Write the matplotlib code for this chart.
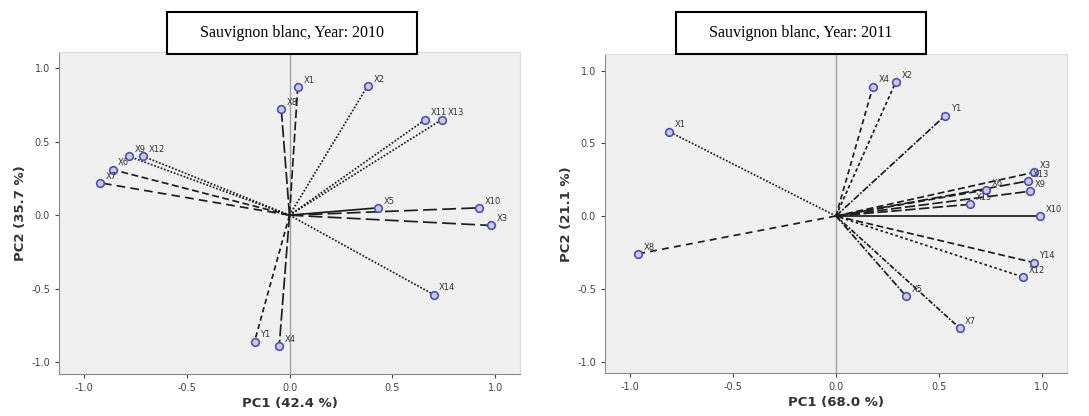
import matplotlib.pyplot as plt
from matplotlib.patches import Rectangle

plt.rcParams['axes.unicode_minus'] = False

# loadings, 2010
labels_2010 = ['X1', 'X8', 'X2', 'X11', 'X13', 'X12', 'X9', 'X6', 'X7',
               'X5', 'X10', 'X3', 'X14', 'Y1', 'X4']
pc1_2010 = [0.04, -0.04, 0.38, 0.66, 0.74, -0.71, -0.78, -0.86, -0.92,
            0.43, 0.92, 0.98, 0.70, -0.17, -0.05]
pc2_2010 = [0.87, 0.72, 0.88, 0.65, 0.65, 0.40, 0.40, 0.31, 0.22,
            0.05, 0.05, -0.07, -0.54, -0.86, -0.89]

# loadings, 2011
labels_2011 = ['X4', 'X2', 'Y1', 'X1', 'X8', 'X3', 'X13', 'X9', 'X6',
               'X15', 'X10', 'Y14', 'X12', 'X5', 'X7']
pc1_2011 = [0.18, 0.29, 0.53, -0.81, -0.96, 0.96, 0.93, 0.94, 0.73,
            0.65, 0.99, 0.96, 0.91, 0.34, 0.60]
pc2_2011 = [0.89, 0.92, 0.69, 0.58, -0.26, 0.30, 0.24, 0.17, 0.18,
            0.08, 0.0, -0.32, -0.42, -0.55, -0.77]

styles_2010 = [(0, (5, 2)), (0, (7, 2)), (0, (1, 1)), (0, (1, 1)), (0, (1, 1)),
               (0, (1, 1)), (0, (1, 1)), (0, (4, 2)), (0, (5, 3)),
               '-', (0, (8, 3)), (0, (8, 3)), (0, (1, 1)), (0, (3, 2)), (0, (7, 2))]
styles_2011 = [(0, (3, 2)), (0, (2, 1.5)), (0, (4, 1, 1, 1)), (0, (1, 1)), (0, (4, 3)),
               (0, (4, 2)), (0, (6, 2)), (0, (6, 2)), (0, (4, 2)),
               (0, (6, 2)), '-', (0, (4, 2)), (0, (1.5, 1.5)), (0, (4, 1, 1, 1)), (0, (3, 1, 1, 1))]

fig = plt.figure(figsize=(10.89, 4.16), dpi=100)


def biplot(ax, xs, ys, labs, styles, xlabel, ylabel):
    ax.set_facecolor('#f0f0f0')
    ax.axvline(0, color='#a0a0a0', lw=1.0, zorder=1)
    for x, y, lab, ls in zip(xs, ys, labs, styles):
        ax.plot([0, x], [0, y], color='#1e1e1e', lw=1.25, ls=ls, zorder=2)
        ax.plot(x, y, 'o', ms=5.5, mfc='#c9c9e6', mec='#5050a8', mew=1.2, zorder=3)
        ax.annotate(lab, (x, y), xytext=(4, 3), textcoords='offset points',
                    fontsize=6, color='#333333', zorder=4)
    ax.set_xlim(-1.12, 1.12)
    ax.set_ylim(-1.08, 1.11)
    ax.set_xticks([-1.0, -0.5, 0.0, 0.5, 1.0])
    ax.set_yticks([-1.0, -0.5, 0.0, 0.5, 1.0])
    ax.tick_params(labelsize=7, colors='#444444', length=3, width=0.8)
    ax.set_xlabel(xlabel, fontsize=9.5, fontweight='bold', color='#333333', labelpad=3)
    ax.set_ylabel(ylabel, fontsize=9.5, fontweight='bold', color='#333333', labelpad=3)
    for side in ['left', 'bottom']:
        ax.spines[side].set_color('#8a8a8a')
    for side in ['top', 'right']:
        ax.spines[side].set_color('#dcdcdc')


ax1 = fig.add_axes([0.0542, 0.101, 0.4233, 0.774])
biplot(ax1, pc1_2010, pc2_2010, labels_2010, styles_2010, 'PC1 (42.4 %)', 'PC2 (35.7 %)')

ax2 = fig.add_axes([0.5556, 0.103, 0.424, 0.766])
biplot(ax2, pc1_2011, pc2_2011, labels_2011, styles_2011, 'PC1 (68.0 %)', 'PC2 (21.1 %)')

# title boxes
for x0, title in [(167, 'Sauvignon blanc, Year: 2010'), (676, 'Sauvignon blanc, Year: 2011')]:
    fig.patches.append(Rectangle((x0 / 1089, 1 - 54 / 416), 250 / 1089, 42 / 416,
                                 transform=fig.transFigure, facecolor='white',
                                 edgecolor='black', lw=1.5, zorder=10))
    fig.text((x0 + 125) / 1089, 1 - 33 / 416, title, ha='center', va='center',
             fontsize=11.5, family='Liberation Serif', zorder=11)

fig.savefig('out.png', dpi=100)
